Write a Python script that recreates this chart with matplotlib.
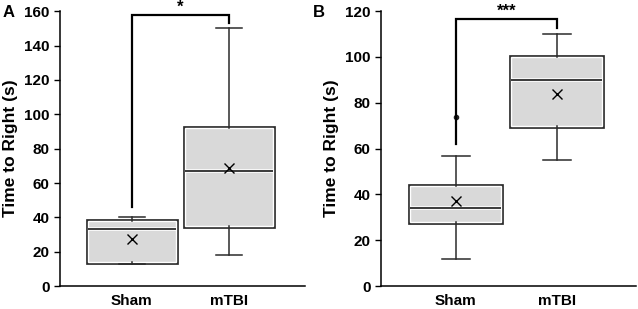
import matplotlib
matplotlib.use("Agg")
import matplotlib.pyplot as plt
import matplotlib.patheffects as pe

plt.rcParams['font.family'] = ['Liberation Sans', 'DejaVu Sans']
plt.rcParams['font.weight'] = 'bold'

groups = ["Sham", "mTBI"]

# Panel A: whislo, q1, med, q3, whishi, mean
a_whislo = [13, 18]
a_q1 = [14, 35]
a_med = [33, 67]
a_q3 = [38, 92]
a_whishi = [40, 150]
a_mean = [27.5, 69]
a_fliers = [[], []]

# Panel B
b_whislo = [12, 55]
b_q1 = [28, 70]
b_med = [34, 90]
b_q3 = [43.5, 100]
b_whishi = [57, 110]
b_mean = [37, 84]
b_fliers = [[74], []]

a_ylim = (0, 160)
a_yticks = [0, 20, 40, 60, 80, 100, 120, 140, 160]
b_ylim = (0, 120)
b_yticks = [0, 20, 40, 60, 80, 100, 120]

fig = plt.figure(figsize=(6.38, 3.09), dpi=100)
axA = fig.add_axes([0.094, 0.074, 0.384, 0.89])
axB = fig.add_axes([0.597, 0.074, 0.400, 0.89])

edge = '#2b2b2b'


def draw(ax, whislo, q1, med, q3, whishi, mean, fliers, ylim, yticks,
         y_start, y_top, y_end, stars):
    stats = []
    for i, g in enumerate(groups):
        stats.append(dict(label=g, whislo=whislo[i], q1=q1[i], med=med[i],
                          q3=q3[i], whishi=whishi[i], mean=mean[i],
                          fliers=fliers[i]))
    bp = ax.bxp(stats, positions=[1, 2], widths=0.9, patch_artist=True,
                showmeans=True, manage_ticks=False,
                boxprops=dict(facecolor='#d9d9d9', edgecolor=edge, linewidth=1.4),
                medianprops=dict(color=edge, linewidth=1.4),
                whiskerprops=dict(color=edge, linewidth=1.1),
                capprops=dict(color=edge, linewidth=1.1),
                capwidths=0.27,
                meanprops=dict(marker='x', markeredgecolor='black',
                               markersize=7, markeredgewidth=1.0),
                flierprops=dict(marker='o', markersize=3,
                                markerfacecolor='#222222',
                                markeredgecolor='#222222'))
    for b in bp['boxes']:
        b.set_path_effects([pe.Stroke(linewidth=3.4, foreground=edge),
                            pe.Stroke(linewidth=1.0, foreground='white')])
    for m in bp['medians']:
        m.set_path_effects([pe.Stroke(linewidth=2.6, foreground='white'),
                            pe.Stroke(linewidth=1.3, foreground=edge)])
    ax.set_xlim(0.258, 2.783)
    ax.set_ylim(*ylim)
    ax.set_yticks(yticks)
    ax.set_xticks([1, 2])
    ax.set_xticklabels(groups, fontsize=11, fontweight='bold')
    ax.tick_params(axis='x', length=0, pad=6)
    ax.tick_params(axis='y', labelsize=11, length=4, width=1, direction='out')
    for lab in ax.get_yticklabels():
        lab.set_fontweight('bold')
    ax.spines['top'].set_visible(False)
    ax.spines['right'].set_visible(False)
    ax.spines['left'].set_linewidth(1.1)
    ax.spines['bottom'].set_linewidth(1.1)
    ax.set_ylabel("Time to Right (s)", fontsize=12.5, fontweight='bold', labelpad=4)
    ax.plot([1, 1, 2, 2], [y_start, y_top, y_top, y_end], color='black',
            linewidth=1.6, clip_on=False, solid_joinstyle='miter')
    ax.text(1.5, y_top, stars, ha='center', va='bottom', fontsize=12,
            fontweight='bold', clip_on=False)


draw(axA, a_whislo, a_q1, a_med, a_q3, a_whishi, a_mean, a_fliers,
     a_ylim, a_yticks, 46, 158, 153, "*")
draw(axB, b_whislo, b_q1, b_med, b_q3, b_whishi, b_mean, b_fliers,
     b_ylim, b_yticks, 62, 116.5, 112.5, "***")

fig.text(0.004, 0.985, "A", fontsize=12, fontweight='bold', va='top')
fig.text(0.490, 0.985, "B", fontsize=12, fontweight='bold', va='top')

fig.savefig("out.png", dpi=100)
